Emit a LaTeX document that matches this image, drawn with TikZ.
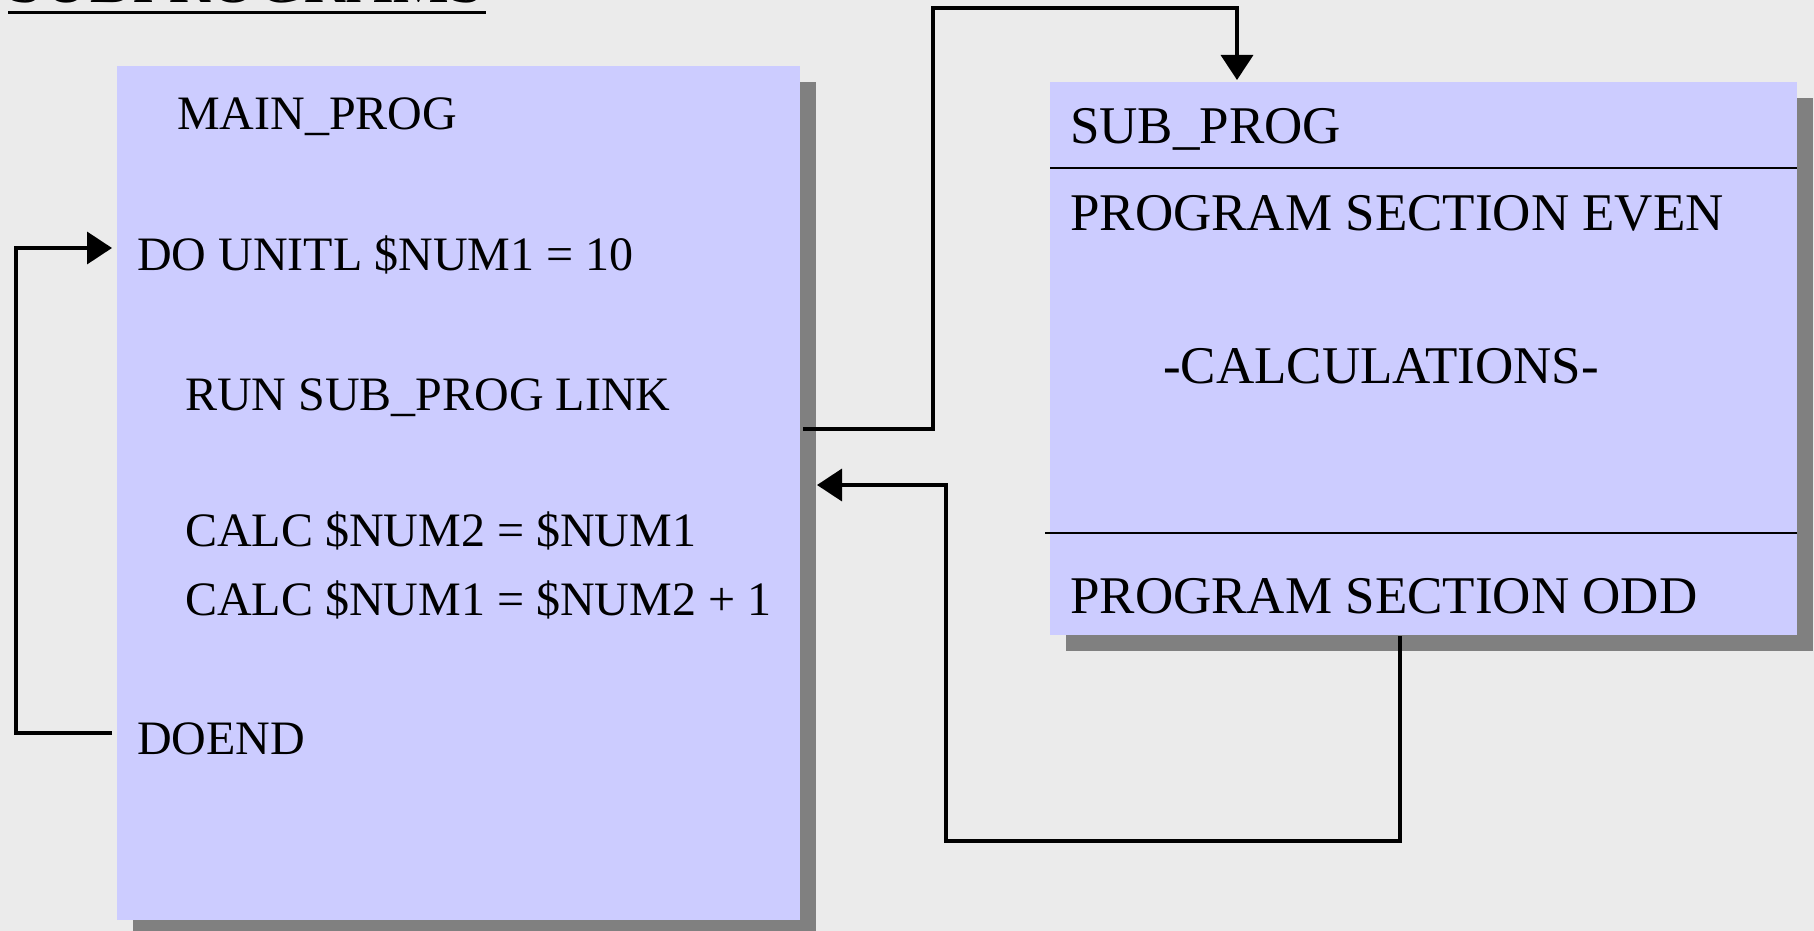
\documentclass[tikz,border=0pt]{standalone}
\usepackage{fontspec}
\setmainfont{Liberation Serif}
\usetikzlibrary{arrows.meta,shadows,calc}
\definecolor{bgcol}{RGB}{235,235,235}
\definecolor{boxcol}{RGB}{204,204,255}
\definecolor{shadcol}{RGB}{128,128,128}
\begin{document}
\begin{tikzpicture}[x=1pt,y=-1pt,
  progbox/.style={draw=none,fill=boxcol,rectangle,inner sep=0pt,anchor=north west,
    drop shadow={shadow xshift=16pt,shadow yshift=-16pt,fill=shadcol,opacity=1}},
  mtext/.style={anchor=base west,inner sep=0pt,font=\fontsize{48}{56}\selectfont},
  stext/.style={anchor=base west,inner sep=0pt,font=\fontsize{53}{62}\selectfont},
  conn/.style={line width=3.6pt,draw=black,-{Triangle[length=25pt,width=32pt]}},
  sep/.style={line width=1.6pt,draw=black}]
\useasboundingbox[fill=bgcol] (0,0) rectangle (1814,931);
% title (cut off at top)
\node[anchor=base west,inner sep=0pt,font=\fontsize{64}{72}\selectfont] (title) at (8,3) {SUBPROGRAMS};
\draw[line width=3.6pt] (title.base west |- 0,12.5) coordinate (ul1) -- (486,12.5) coordinate (ul2);
% boxes
\node[progbox,minimum width=683pt,minimum height=854pt] (main) at (117,66) {};
\node[progbox,minimum width=747pt,minimum height=553pt] (sub) at (1050,82) {};
% separators in sub box
\coordinate (s1) at (1050,168);
\coordinate (s2) at (1045,533);
\draw[sep] (s1) -- (s1 -| sub.east);
\draw[sep] (s2) -- (s2 -| sub.east);
% main texts
\node[mtext] (mp) at (177,130) {MAIN\_PROG};
\node[mtext] (do) at (137,270) {DO UNITL \$NUM1 = 10};
\node[mtext] (run) at (185,410) {RUN SUB\_PROG LINK};
\node[mtext] (c1) at (185,546) {CALC \$NUM2 = \$NUM1};
\node[mtext] (c2) at (185,615) {CALC \$NUM1 = \$NUM2 + 1};
\node[mtext] (de) at (137,754) {DOEND};
% sub texts
\node[stext] (sp) at (1070,143) {SUB\_PROG};
\node[stext] (even) at (1070,230) {PROGRAM SECTION EVEN};
\node[stext] (calc) at (1163,383) {-CALCULATIONS-};
\node[stext] (odd) at (1070,613) {PROGRAM SECTION ODD};
% loop connector
\coordinate (la) at (112,733);
\coordinate (lb) at (112,248);
\coordinate (lx) at (16,0);
\draw[conn] (la) -| (lx |- lb) -- (lb);
% call connector
\coordinate (ca) at (803,429);
\coordinate (cx) at (933,8);
\coordinate (cb) at (1237,80);
\draw[conn] (ca) -| (cx) -| (cb);
% return connector
\coordinate (ra) at (1400,636);
\coordinate (ry) at (946,841);
\coordinate (rb) at (817,485);
\draw[conn] (ra) |- (ry) |- (rb);
\end{tikzpicture}
\end{document}
